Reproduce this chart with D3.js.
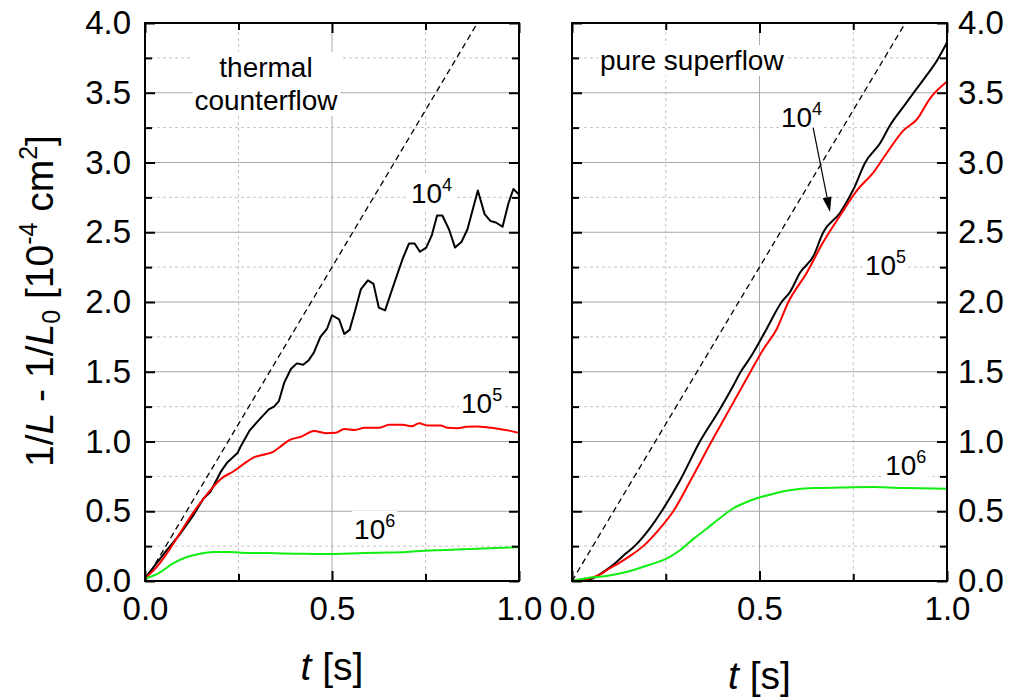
<!DOCTYPE html>
<html>
<head>
<meta charset="utf-8">
<script src="https://cdn.jsdelivr.net/npm/d3@7"></script>
<style>
  html, body { margin: 0; padding: 0; background: #fff; }
  svg { display: block; font-family: "Liberation Sans", Arial, Helvetica, sans-serif; }
</style>
</head>
<body>
<svg id="chart" width="1009" height="698"></svg>
<script>
// ---------------- data ----------------
// thermal counterflow panel
const tcT_1e4 = [0,0.023,0.055,0.092,0.129,0.156,0.175,0.202,0.22,0.248,0.257,0.28,0.303,0.331,0.345,0.358,0.372,0.39,0.406,0.423,0.437,0.452,0.469,0.487,0.5,0.519,0.533,0.547,0.561,0.577,0.596,0.611,0.625,0.642,0.657,0.676,0.689,0.706,0.721,0.735,0.752,0.767,0.781,0.795,0.813,0.829,0.846,0.862,0.89,0.908,0.924,0.938,0.956,0.972,0.985,1.0];
const tcV_1e4 = [0.02,0.1,0.21,0.33,0.47,0.59,0.64,0.78,0.85,0.92,0.97,1.08,1.15,1.23,1.25,1.29,1.42,1.52,1.56,1.55,1.58,1.64,1.75,1.81,1.905,1.876,1.77,1.80,1.93,2.09,2.155,2.13,1.96,1.94,2.06,2.21,2.31,2.42,2.42,2.36,2.39,2.48,2.62,2.62,2.52,2.39,2.43,2.52,2.80,2.63,2.58,2.57,2.54,2.71,2.81,2.77];
const tcT_1e5 = [0,0.028,0.064,0.101,0.129,0.165,0.202,0.239,0.267,0.294,0.317,0.345,0.363,0.386,0.418,0.452,0.483,0.51,0.533,0.561,0.588,0.625,0.653,0.689,0.712,0.733,0.754,0.79,0.809,0.836,0.859,0.887,0.919,0.947,0.974,1.0];
const tcV_1e5 = [0.02,0.09,0.22,0.375,0.49,0.62,0.73,0.79,0.845,0.89,0.905,0.93,0.965,1.01,1.035,1.075,1.06,1.063,1.09,1.083,1.098,1.098,1.12,1.12,1.11,1.13,1.115,1.115,1.098,1.095,1.105,1.107,1.10,1.09,1.078,1.062];
const tcT_1e6 = [0,0.037,0.074,0.11,0.147,0.184,0.22,0.257,0.331,0.404,0.478,0.551,0.625,0.699,0.772,0.846,0.919,1.0];
const tcV_1e6 = [0.017,0.057,0.124,0.17,0.196,0.208,0.208,0.203,0.2,0.196,0.193,0.198,0.203,0.208,0.22,0.227,0.234,0.243];

// pure superflow panel
const psT_1e4 = [0,0.029,0.056,0.083,0.114,0.145,0.167,0.207,0.239,0.288,0.341,0.394,0.43,0.45,0.475,0.519,0.559,0.581,0.608,0.644,0.67,0.715,0.751,0.782,0.822,0.849,0.884,0.911,0.947,0.973,1.0];
const psV_1e4 = [0,0.005,0.02,0.064,0.125,0.2,0.25,0.375,0.5,0.72,1.0,1.23,1.40,1.5,1.6,1.807,2.0,2.07,2.21,2.33,2.5,2.64,2.81,3.0,3.14,3.27,3.40,3.5,3.63,3.73,3.86];
const psT_1e5 = [0,0.038,0.074,0.1,0.123,0.155,0.19,0.234,0.27,0.32,0.372,0.424,0.476,0.51,0.546,0.577,0.626,0.67,0.715,0.76,0.804,0.84,0.884,0.92,0.955,1.0];
const psV_1e5 = [0,0.012,0.045,0.09,0.125,0.18,0.25,0.375,0.5,0.74,1.0,1.25,1.5,1.66,1.807,2.0,2.21,2.43,2.62,2.8,2.93,3.07,3.23,3.31,3.46,3.58];
const psT_1e6 = [0,0.038,0.092,0.145,0.207,0.252,0.288,0.323,0.359,0.394,0.43,0.466,0.501,0.537,0.581,0.644,0.715,0.804,0.893,1.0];
const psV_1e6 = [0,0.02,0.036,0.064,0.117,0.16,0.22,0.3,0.375,0.45,0.52,0.566,0.60,0.625,0.65,0.666,0.67,0.673,0.666,0.661];

// dashed reference line (same in both panels)
const refT = [0, 1];
const refV = [0, 4.5];

// axes
const xTicksMajor = [0, 0.5, 1.0];
const xTicksMinor = [0.25, 0.75];
const yTicksMajor = [0, 0.5, 1.0, 1.5, 2.0, 2.5, 3.0, 3.5, 4.0];
const yTicksMinor = [0.25, 0.75, 1.25, 1.75, 2.25, 2.75, 3.25, 3.75];

// ---------------- layout ----------------
const svg = d3.select("#chart");
const plotTop = 23, plotBottom = 581;
const y = d3.scaleLinear().domain([0, 4]).range([plotBottom, plotTop]);
const panels = [
  { x: d3.scaleLinear().domain([0, 1]).range([145, 519]), side: "left",
    series: [[tcT_1e4, tcV_1e4, "#000000", true], [tcT_1e5, tcV_1e5, "#ff0000", false], [tcT_1e6, tcV_1e6, "#11ee11", false]],
    titleY: 680 },
  { x: d3.scaleLinear().domain([0, 1]).range([572, 947]), side: "right",
    series: [[psT_1e4, psV_1e4, "#000000", false], [psT_1e5, psV_1e5, "#ff0000", false], [psT_1e6, psV_1e6, "#11ee11", false]],
    titleY: 689 }
];

const FS_TICK = 33, FS_LABEL = 28, FS_TITLE = 39;

// annotations in data coordinates
const annotations = [
  [ // thermal counterflow
    { lines: ["thermal", "counterflow"], t: 0.3235, v: [3.613, 3.376], anchor: "middle" },
    { base: "10", sup: "4", t: 0.711, v: 2.71 },
    { base: "10", sup: "5", t: 0.845, v: 1.204 },
    { base: "10", sup: "6", t: 0.559, v: 0.301 }
  ],
  [ // pure superflow
    { lines: ["pure superflow"], t: 0.0747, v: [3.663], anchor: "start" },
    { base: "10", sup: "4", t: 0.557, v: 3.254 },
    { base: "10", sup: "5", t: 0.781, v: 2.194 },
    { base: "10", sup: "6", t: 0.835, v: 0.76 }
  ]
];
const arrow = { t0: 0.643, v0: 3.25, t1: 0.688, v1: 2.645 };

panels.forEach((p, i) => {
  const x = p.x;
  const g = svg.append("g");
  // grid
  const grid = g.append("g");
  grid.selectAll(".gy").data(yTicksMinor).join("line")
    .attr("x1", x(0)).attr("x2", x(1)).attr("y1", d => y(d)).attr("y2", d => y(d))
    .attr("stroke", "#c4c4c4").attr("stroke-width", 1).attr("stroke-dasharray", "3,3");
  grid.selectAll(".gx").data(xTicksMinor).join("line")
    .attr("y1", y(0)).attr("y2", y(4)).attr("x1", d => x(d)).attr("x2", d => x(d))
    .attr("stroke", "#c4c4c4").attr("stroke-width", 1).attr("stroke-dasharray", "3,3");
  grid.selectAll(".gY").data(yTicksMajor.filter(d => d > 0 && d < 4)).join("line")
    .attr("x1", x(0)).attr("x2", x(1)).attr("y1", d => y(d)).attr("y2", d => y(d))
    .attr("stroke", "#a8a8a8").attr("stroke-width", 1);
  grid.selectAll(".gX").data([0.5]).join("line")
    .attr("y1", y(0)).attr("y2", y(4)).attr("x1", d => x(d)).attr("x2", d => x(d))
    .attr("stroke", "#a8a8a8").attr("stroke-width", 1);

  // annotations with white backgrounds
  const ann = g.append("g");
  annotations[i].forEach(a => {
    const ag = ann.append("g");
    const bg = ag.append("rect").attr("fill", "#fff");
    if (a.lines) {
      a.lines.forEach((ln, k) => {
        ag.append("text").attr("x", x(a.t)).attr("y", y(a.v[k]))
          .attr("text-anchor", a.anchor).attr("font-size", FS_LABEL).text(ln);
      });
    } else {
      const tx = ag.append("text").attr("x", x(a.t)).attr("y", y(a.v)).attr("font-size", FS_LABEL);
      tx.append("tspan").text(a.base);
      tx.append("tspan").attr("font-size", 18).attr("dy", -12).text(a.sup);
    }
    const bb = ag.node().getBBox();
    bg.attr("x", bb.x - 2).attr("y", bb.y).attr("width", bb.width + 4).attr("height", bb.height);
  });

  // dashed reference line, clipped to panel
  const clipId = "clip" + i;
  svg.append("clipPath").attr("id", clipId).append("rect")
    .attr("x", x(0)).attr("y", y(4)).attr("width", x(1) - x(0)).attr("height", y(0) - y(4));
  const refData = refT.map((t, k) => [t, refV[k]]);
  g.append("path").datum(refData)
    .attr("clip-path", `url(#${clipId})`)
    .attr("d", d3.line().x(d => x(d[0])).y(d => y(d[1])))
    .attr("fill", "none").attr("stroke", "#000").attr("stroke-width", 1.3).attr("stroke-dasharray", "6,4");

  // series
  p.series.forEach(([ts, vs, col, jagged]) => {
    const data = ts.map((t, k) => [t, vs[k]]);
    g.append("path").datum(data)
      .attr("d", d3.line().curve(jagged ? d3.curveLinear : d3.curveMonotoneX).x(d => x(d[0])).y(d => y(d[1])))
      .attr("fill", "none").attr("stroke", col).attr("stroke-width", 2).attr("stroke-linejoin", "round");
  });

  // arrow in right panel
  if (i === 1) {
    const x0 = x(arrow.t0), y0 = y(arrow.v0), x1 = x(arrow.t1), y1 = y(arrow.v1);
    const ang = Math.atan2(y1 - y0, x1 - x0);
    const L = 15, Wd = 4.5;
    const bx = x1 - L * Math.cos(ang), by = y1 - L * Math.sin(ang);
    g.append("line").attr("x1", x0).attr("y1", y0).attr("x2", bx).attr("y2", by)
      .attr("stroke", "#000").attr("stroke-width", 1.2);
    g.append("path")
      .attr("d", `M${x1},${y1}L${bx - Wd * Math.sin(ang)},${by + Wd * Math.cos(ang)}L${bx + Wd * Math.sin(ang)},${by - Wd * Math.cos(ang)}Z`)
      .attr("fill", "#000");
  }

  // axes (ticks inward)
  const fmt = d3.format(".1f");
  const styleAxis = sel => {
    sel.select(".domain").remove();
    sel.selectAll(".tick line").attr("stroke", "#000").attr("stroke-width", 2);
    sel.selectAll(".tick text").attr("font-size", FS_TICK).attr("fill", "#000")
      .style("font-family", '"Liberation Sans", Arial, sans-serif');
  };
  g.append("g").attr("transform", `translate(0,${y(0)})`)
    .call(d3.axisBottom(x).tickValues(xTicksMajor).tickSize(-10).tickPadding(16).tickFormat(fmt)).call(styleAxis);
  g.append("g").attr("transform", `translate(0,${y(0)})`)
    .call(d3.axisBottom(x).tickValues(xTicksMinor).tickSize(-7).tickFormat("")).call(styleAxis);
  g.append("g").attr("transform", `translate(0,${y(4)})`)
    .call(d3.axisTop(x).tickValues(xTicksMajor).tickSize(-10).tickFormat("")).call(styleAxis);
  g.append("g").attr("transform", `translate(0,${y(4)})`)
    .call(d3.axisTop(x).tickValues(xTicksMinor).tickSize(-7).tickFormat("")).call(styleAxis);

  const leftAx = d3.axisLeft(y).tickValues(yTicksMajor).tickSize(-10).tickPadding(14).tickFormat(p.side === "left" ? fmt : "");
  const rightAx = d3.axisRight(y).tickValues(yTicksMajor).tickSize(-10).tickPadding(11).tickFormat(p.side === "right" ? fmt : "");
  g.append("g").attr("transform", `translate(${x(0)},0)`).call(leftAx).call(styleAxis);
  g.append("g").attr("transform", `translate(${x(0)},0)`)
    .call(d3.axisLeft(y).tickValues(yTicksMinor).tickSize(-7).tickFormat("")).call(styleAxis);
  g.append("g").attr("transform", `translate(${x(1)},0)`).call(rightAx).call(styleAxis);
  g.append("g").attr("transform", `translate(${x(1)},0)`)
    .call(d3.axisRight(y).tickValues(yTicksMinor).tickSize(-7).tickFormat("")).call(styleAxis);

  // frame
  g.append("rect").attr("x", x(0)).attr("y", y(4)).attr("width", x(1) - x(0)).attr("height", y(0) - y(4))
    .attr("fill", "none").attr("stroke", "#000").attr("stroke-width", 2);

  // x title
  const xt = g.append("text").attr("x", (x(0) + x(1)) / 2).attr("y", p.titleY)
    .attr("text-anchor", "middle").attr("font-size", FS_TITLE);
  xt.append("tspan").attr("font-style", "italic").text("t");
  xt.append("tspan").text(" [s]");
});

// y title
const yt = svg.append("text").attr("transform", "translate(53,301) rotate(-90)")
  .attr("text-anchor", "middle").attr("font-size", FS_TITLE);
yt.append("tspan").text("1/");
yt.append("tspan").attr("font-style", "italic").text("L");
yt.append("tspan").text(" - 1/");
yt.append("tspan").attr("font-style", "italic").text("L");
yt.append("tspan").attr("font-size", 25).attr("dy", 7).text("0");
yt.append("tspan").attr("dy", -7).text(" [10");
yt.append("tspan").attr("font-size", 25).attr("dy", -16).text("-4");
yt.append("tspan").attr("dy", 16).text(" cm");
yt.append("tspan").attr("font-size", 25).attr("dy", -16).text("2");
yt.append("tspan").attr("dy", 16).text("]");
</script>
</body>
</html>
